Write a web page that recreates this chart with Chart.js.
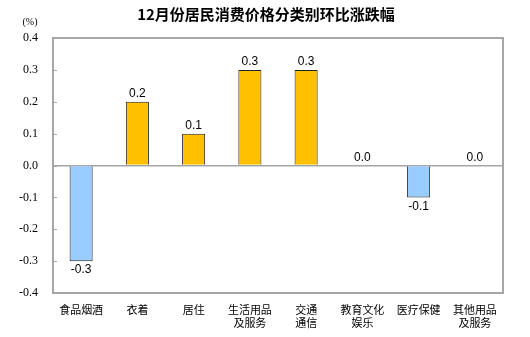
<!DOCTYPE html>
<html>
<head>
<meta charset="utf-8">
<script src="https://cdn.jsdelivr.net/npm/chart.js@4"></script>
<style>
  html, body { margin: 0; padding: 0; background: #fff; }
  #wrap { width: 530px; height: 337px; position: relative; }
</style>
</head>
<body>
<div id="wrap"><canvas id="c"></canvas></div>
<script>
// Categories (multi-line labels) and month-on-month change, %
const categories = [
  ['食品烟酒'], ['衣着'], ['居住'], ['生活用品', '及服务'],
  ['交通', '通信'], ['教育文化', '娱乐'], ['医疗保健'], ['其他用品', '及服务']
];
const values = [-0.3, 0.2, 0.1, 0.3, 0.3, 0.0, -0.1, 0.0];
const yTicks = [-0.4, -0.3, -0.2, -0.1, 0.0, 0.1, 0.2, 0.3, 0.4];

const titleText = '12月份居民消费价格分类别环比涨跌幅';
const unitText = '(%)';

const CJK = '"Noto Sans CJK SC", sans-serif';

const decor = {
  id: 'decor',
  afterDatasetsDraw(chart) {
    const ctx = chart.ctx;
    const area = chart.chartArea;
    const y = chart.scales.y;
    ctx.save();
    // frame around plot area
    ctx.strokeStyle = '#a6a6a6';
    ctx.lineWidth = 2;
    ctx.strokeRect(area.left, area.top, area.right - area.left, area.bottom - area.top);
    // inward tick marks on the value axis
    ctx.lineWidth = 1;
    yTicks.forEach(v => {
      const py = Math.round(y.getPixelForValue(v)) + 0.5;
      ctx.beginPath();
      ctx.moveTo(area.left, py);
      ctx.lineTo(area.left + 4, py);
      ctx.stroke();
    });
    // value labels
    const meta = chart.getDatasetMeta(0);
    ctx.fillStyle = '#000';
    ctx.font = '12px "Liberation Sans", Arial, sans-serif';
    ctx.textAlign = 'center';
    meta.data.forEach((bar, i) => {
      const v = values[i];
      if (v < 0) {
        ctx.textBaseline = 'top';
        ctx.fillText(v.toFixed(1), bar.x, bar.y + 3);
      } else {
        ctx.textBaseline = 'bottom';
        ctx.fillText(v.toFixed(1), bar.x, bar.y - 2);
      }
    });
    // title and unit
    ctx.font = 'bold 15px ' + CJK;
    ctx.textBaseline = 'middle';
    ctx.fillText(titleText, 266, 14);
    ctx.font = '10px "Liberation Serif", serif';
    ctx.fillText(unitText, 30, 22);
    ctx.restore();
  }
};

new Chart(document.getElementById('c'), {
  type: 'bar',
  data: {
    labels: categories,
    datasets: [{
      data: values,
      backgroundColor: values.map(v => v < 0 ? '#99ccff' : '#ffc000'),
      borderColor: '#222',
      borderWidth: 1,
      barPercentage: 0.41,
      categoryPercentage: 1.0
    }]
  },
  options: {
    responsive: true,
    maintainAspectRatio: false,
    animation: false,
    devicePixelRatio: 1,
    layout: { padding: { top: 38, right: 27, left: 0, bottom: 0 } },
    plugins: { legend: { display: false }, tooltip: { enabled: false } },
    scales: {
      x: {
        grid: { display: false },
        border: { display: false },
        ticks: {
          color: '#000',
          font: { family: CJK, size: 11 },
          padding: 2,
          maxRotation: 0,
          autoSkip: false
        },
        afterFit(s) { s.height = 44; }
      },
      y: {
        min: -0.4,
        max: 0.4,
        border: { display: false },
        grid: {
          drawTicks: false,
          color: c => (c.tick && Math.abs(c.tick.value) < 1e-9) ? '#a6a6a6' : 'transparent',
          lineWidth: 1.5
        },
        ticks: {
          stepSize: 0.1,
          color: '#000',
          padding: 15,
          font: { family: '"Liberation Serif", serif', size: 12 },
          callback: v => (Math.abs(v) < 1e-9 ? 0 : v).toFixed(1)
        },
        afterFit(s) { s.width = 53; }
      }
    }
  },
  plugins: [decor]
});
</script>
</body>
</html>
